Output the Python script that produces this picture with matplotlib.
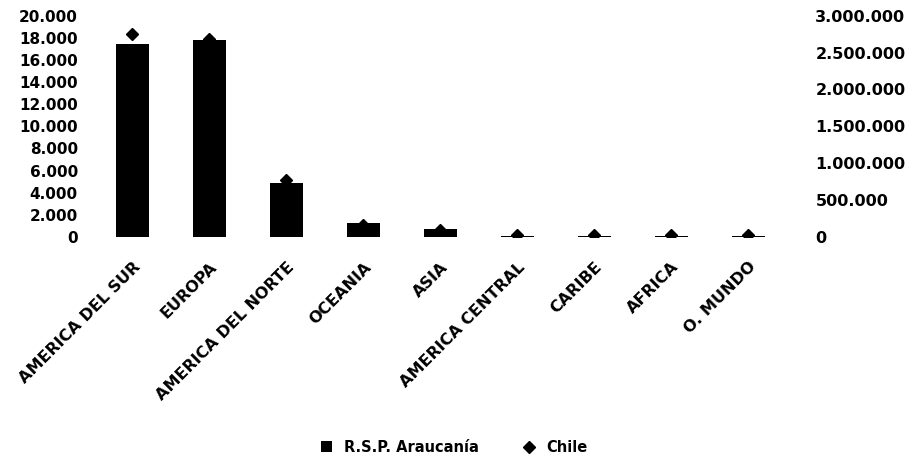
import matplotlib.pyplot as plt
from matplotlib.ticker import FuncFormatter

regiones = ['AMERICA DEL SUR', 'EUROPA', 'AMERICA DEL NORTE', 'OCEANIA', 'ASIA',
            'AMERICA CENTRAL', 'CARIBE', 'AFRICA', 'O. MUNDO']
araucania = [17400, 17800, 4900, 1300, 700, 100, 80, 60, 50]
chile = [2750000, 2680000, 770000, 160000, 100000, 27000, 27000, 25000, 25000]
ticks_izq = list(range(0, 20001, 2000))
ticks_der = list(range(0, 3000001, 500000))

def miles(v, pos):
    return f'{int(v):,}'.replace(',', '.')

fig = plt.figure(figsize=(9.08, 4.61), dpi=100)
ax = fig.add_axes([0.095, 0.486, 0.78, 0.48])
x = range(len(regiones))
ax.bar(x, araucania, width=0.43, color='black', label='R.S.P. Araucanía', zorder=2)
ax.set_ylim(0, 20000)
ax.set_yticks(ticks_izq)
ax.yaxis.set_major_formatter(FuncFormatter(miles))
ax.set_xlim(-0.6, len(regiones) - 0.4)
ax.set_xticks(list(x))
ax.set_xticklabels(regiones, rotation=45, ha='right', rotation_mode='anchor',
                   fontsize=11.5, fontweight='bold')
for s in ax.spines.values():
    s.set_visible(False)
ax.tick_params(length=0)
ax.tick_params(axis='x', pad=16)
ax.tick_params(axis='y', pad=6, labelsize=11)
for t in ax.get_yticklabels():
    t.set_fontweight('bold')

ax2 = ax.twinx()
ax2.plot(list(x), chile, linestyle='none', marker='D', markersize=6,
         color='black', label='Chile', zorder=3)
ax2.set_ylim(0, 3000000)
ax2.set_yticks(ticks_der)
ax2.yaxis.set_major_formatter(FuncFormatter(miles))
ax2.tick_params(length=0, labelsize=11.5, pad=15)
for s in ax2.spines.values():
    s.set_visible(False)
for t in ax2.get_yticklabels():
    t.set_fontweight('bold')

h1, l1 = ax.get_legend_handles_labels()
h2, l2 = ax2.get_legend_handles_labels()
fig.legend(h1 + h2, l1 + l2, loc='center', bbox_to_anchor=(0.5, 0.03), ncol=2,
           frameon=False, handlelength=0.8, columnspacing=3.0,
           prop={'weight': 'bold', 'size': 10.5})

fig.savefig('out.png', dpi=100)
